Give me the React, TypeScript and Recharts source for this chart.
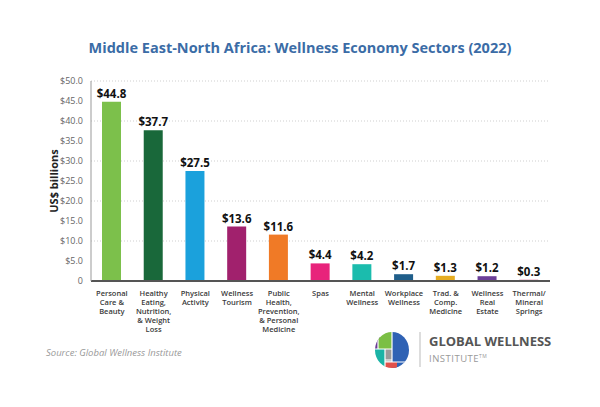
import React from "react"
import {
  BarChart,
  Bar,
  XAxis,
  YAxis,
  CartesianGrid,
  Cell,
  LabelList
} from "recharts"

// sector names, one entry per bar ("|" marks a line break in the axis label)
const sectors = [
  "Personal|Care &|Beauty",
  "Healthy|Eating,|Nutrition,|& Weight|Loss",
  "Physical|Activity",
  "Wellness|Tourism",
  "Public|Health,|Prevention,|& Personal|Medicine",
  "Spas",
  "Mental|Wellness",
  "Workplace|Wellness",
  "Trad. &|Comp.|Medicine",
  "Wellness|Real|Estate",
  "Thermal/|Mineral|Springs"
]

// market size, US$ billions
const values = [44.8, 37.7, 27.5, 13.6, 11.6, 4.4, 4.2, 1.7, 1.3, 1.2, 0.3]

const colors = [
  "#7cc04b",
  "#19683a",
  "#1ba1dc",
  "#a1216d",
  "#f07a26",
  "#e8237b",
  "#1bbcad",
  "#1f5e8a",
  "#e6ad22",
  "#6b3f98",
  "#c0195a"
]

const yTicks = [0, 5, 10, 15, 20, 25, 30, 35, 40, 45, 50]

const data = sectors.map((name, i) => ({ name, value: values[i] }))

const FONT = "'Open Sans', sans-serif"

const SectorTick = (props: any) => {
  const { x, y, payload } = props
  const lines = String(payload.value).split("|")
  return (
    <text x={x} y={y} textAnchor="middle" fontFamily={FONT} fontSize={7.5} fontWeight={600} fill="#3a3a3a">
      {lines.map((l, i) => (
        <tspan key={i} x={x} dy={i === 0 ? 7 : 9}>{l}</tspan>
      ))}
    </text>
  )
}

export default function App() {
  return (
    <div style={{ position: "fixed", top: 0, left: 0, width: 600, height: 407, background: "#fff", fontFamily: FONT }}>

      {/* Title */}
      <div style={{ position: "absolute", top: 38, left: 0, width: 600, textAlign: "center", color: "#3b6ca6", fontSize: 14.5, fontWeight: 700 }}>
        Middle East-North Africa: Wellness Economy Sectors (2022)
      </div>

      <BarChart
        width={600}
        height={407}
        data={data}
        margin={{ top: 81, right: 50, bottom: 66, left: 41 }}
        style={{ position: "absolute", top: 0, left: 0 }}
      >
        <CartesianGrid horizontal vertical={false} stroke="#cfcfcf" strokeDasharray="1 2" />

        <XAxis
          dataKey="name"
          interval={0}
          height={60}
          tick={<SectorTick />}
          tickLine={false}
          axisLine={{ stroke: "#555", strokeWidth: 2 }}
        />
        <YAxis
          width={50}
          domain={[0, 50]}
          ticks={yTicks}
          tickLine={false}
          axisLine={{ stroke: "#999" }}
          tick={{ fontSize: 9, fill: "#666", fontFamily: FONT }}
          tickFormatter={(v: number) => (v === 0 ? "0" : "$" + v.toFixed(1))}
          label={{
            value: "US$ billions",
            angle: -90,
            position: "insideLeft",
            offset: 13,
            style: { fontSize: 11, fontWeight: 700, fill: "#222", fontFamily: FONT, textAnchor: "middle" }
          }}
        />

        <Bar dataKey="value" barSize={19} isAnimationActive={false}>
          {data.map((d, i) => (
            <Cell key={d.name} fill={colors[i]} />
          ))}
          <LabelList
            dataKey="value"
            position="top"
            offset={4}
            formatter={(v: any) => "$" + Number(v).toFixed(1)}
            style={{ fontSize: 11.5, fontWeight: 700, fill: "#111", fontFamily: FONT }}
          />
        </Bar>
      </BarChart>

      {/* Footer */}
      <div style={{ position: "absolute", top: 346, left: 46, fontSize: 9.5, fontStyle: "italic", color: "#999" }}>
        Source: Global Wellness Institute
      </div>

      <svg width={600} height={407} style={{ position: "absolute", top: 0, left: 0, pointerEvents: "none" }}>
        <defs>
          <clipPath id="gwiLogo">
            <ellipse cx={392} cy={350} rx={17} ry={18} />
          </clipPath>
        </defs>
        <g clipPath="url(#gwiLogo)">
          <rect x={370} y={330} width={10} height={20} fill="#6a3b95" />
          <rect x={378} y={330} width={14} height={19} fill="#7bbf45" />
          <rect x={392} y={330} width={20} height={40} fill="#2f62b4" />
          <rect x={370} y={349} width={15} height={22} fill="#1bb3a6" />
          <rect x={385} y={349} width={7} height={10} fill="#9a9a9a" />
          <rect x={385} y={359} width={7} height={3} fill="#cfcfcf" />
          <rect x={385} y={362} width={12} height={10} fill="#e2504a" />
          <line x1={378} y1={330} x2={378} y2={349} stroke="#fff" strokeWidth={1.2} />
          <line x1={370} y1={349} x2={392} y2={349} stroke="#fff" strokeWidth={1.2} />
          <line x1={392} y1={330} x2={392} y2={362} stroke="#fff" strokeWidth={1.2} />
          <line x1={385} y1={349} x2={385} y2={372} stroke="#fff" strokeWidth={1.2} />
          <line x1={385} y1={362} x2={412} y2={362} stroke="#fff" strokeWidth={1.2} />
        </g>
        <line x1={420} y1={332} x2={420} y2={367} stroke="#bbb" strokeWidth={1} />
        <text x={429} y={346} fontFamily={FONT} fontSize={13} fontWeight={700} fill="#555">GLOBAL WELLNESS</text>
        <text x={429} y={362} fontFamily={FONT} fontSize={9.5} fill="#999" letterSpacing={0.5}>
          INSTITUTE<tspan fontSize={5} dy={-4}>TM</tspan>
        </text>
      </svg>
    </div>
  )
}
